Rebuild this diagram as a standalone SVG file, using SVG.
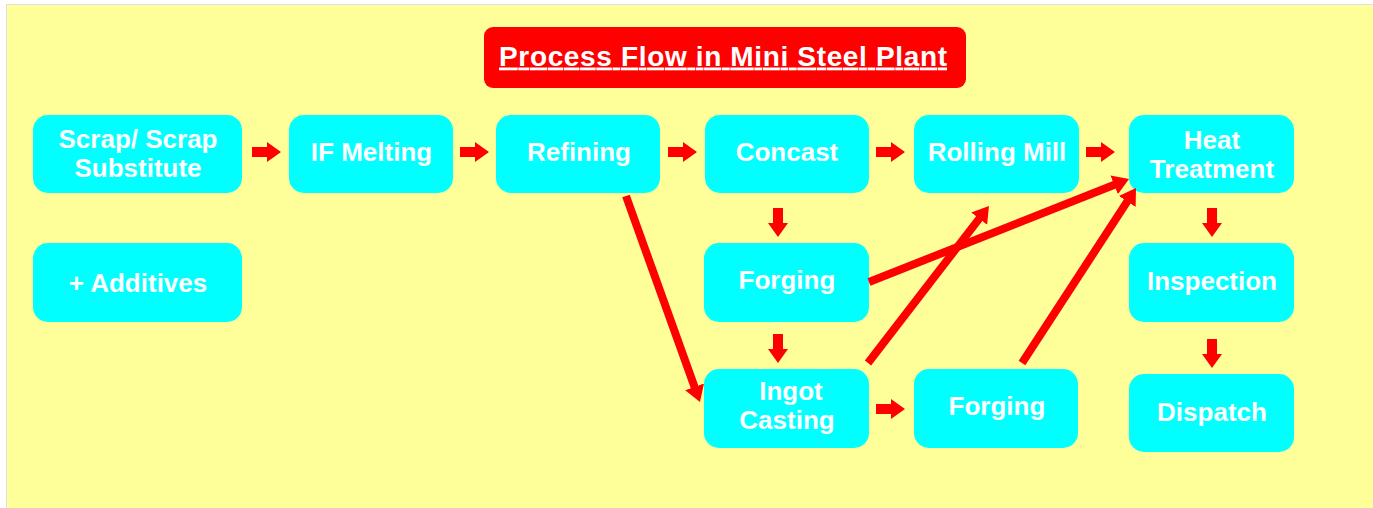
<svg xmlns="http://www.w3.org/2000/svg" width="1373" height="508" viewBox="0 0 1373 508">
  <style>
    .node rect { fill: #00FFFF; }
    .node text, .title text { fill: #FFFFFF; font-family: "Liberation Sans", Arial, sans-serif; font-weight: bold; text-anchor: middle; }
    .node text { font-size: 26px; }
    .block { fill: #FF0000; }
    .link { stroke: #FF0000; stroke-width: 8; fill: none; marker-end: url(#head); }
  </style>
  <defs>
    <!-- short block arrow, pointing right, origin at the tail centre -->
    <path id="blk" class="block" d="M0,-5 H15 V-10 L29,0 L15,10 V5 H0 Z"/>
    <marker id="head" markerUnits="userSpaceOnUse" markerWidth="20" markerHeight="24" viewBox="0 -12 20 24" refX="1" refY="0" orient="auto">
      <path d="M0,-10 L16,0 L0,10 Z" fill="#FF0000"/>
    </marker>
  </defs>

  <!-- page background -->
  <rect x="0" y="0" width="1373" height="508" fill="#FFFFFF"/>
  <rect x="6.5" y="4.5" width="1380" height="520" fill="#FFFF99" stroke="#DEE0E8" stroke-width="1"/>

  <!-- heading -->
  <g id="title" class="title">
    <rect x="484" y="27" width="482" height="61" rx="9" fill="#FF0000"/>
    <text x="723" y="65.5" font-size="28" textLength="448" lengthAdjust="spacing" text-decoration="underline">Process Flow in Mini Steel Plant</text>
  </g>

  <!-- process steps -->
  <g id="scrap" class="node">
    <rect x="33" y="115" width="209" height="78" rx="15"/>
    <text x="138" y="148">Scrap/ Scrap</text>
    <text x="138" y="177">Substitute</text>
  </g>
  <g id="additives" class="node">
    <rect x="33" y="243" width="209" height="79" rx="15"/>
    <text x="138" y="292">+ Additives</text>
  </g>
  <g id="if-melting" class="node">
    <rect x="289" y="115" width="164" height="78" rx="15"/>
    <text x="371.5" y="161">IF Melting</text>
  </g>
  <g id="refining" class="node">
    <rect x="496" y="115" width="164" height="78" rx="15"/>
    <text x="579" y="161">Refining</text>
  </g>
  <g id="concast" class="node">
    <rect x="705" y="115" width="164" height="78" rx="15"/>
    <text x="787" y="161">Concast</text>
  </g>
  <g id="rolling-mill" class="node">
    <rect x="914" y="115" width="165" height="78" rx="15"/>
    <text x="997" y="161">Rolling Mill</text>
  </g>
  <g id="heat-treatment" class="node">
    <rect x="1129" y="115" width="165" height="78" rx="15"/>
    <text x="1212" y="149">Heat</text>
    <text x="1212" y="178">Treatment</text>
  </g>
  <g id="forging-1" class="node">
    <rect x="704" y="243" width="165" height="79" rx="15"/>
    <text x="787" y="289">Forging</text>
  </g>
  <g id="inspection" class="node">
    <rect x="1129" y="243" width="165" height="79" rx="15"/>
    <text x="1212" y="290">Inspection</text>
  </g>
  <g id="ingot-casting" class="node">
    <rect x="704" y="369" width="165" height="79" rx="15"/>
    <text x="791" y="400">Ingot</text>
    <text x="787" y="429">Casting</text>
  </g>
  <g id="forging-2" class="node">
    <rect x="914" y="369" width="164" height="79" rx="15"/>
    <text x="997" y="415">Forging</text>
  </g>
  <g id="dispatch" class="node">
    <rect x="1129" y="374" width="165" height="78" rx="15"/>
    <text x="1212" y="421">Dispatch</text>
  </g>

  <!-- connectors -->
  <g id="connectors">
    <use href="#blk" transform="translate(252,152)"/>
    <use href="#blk" transform="translate(460,152)"/>
    <use href="#blk" transform="translate(668,152)"/>
    <use href="#blk" transform="translate(876,152)"/>
    <use href="#blk" transform="translate(1086,152)"/>
    <use href="#blk" transform="translate(876,409)"/>
    <use href="#blk" transform="translate(778,208) rotate(90)"/>
    <use href="#blk" transform="translate(778,334) rotate(90)"/>
    <use href="#blk" transform="translate(1212,208) rotate(90)"/>
    <use href="#blk" transform="translate(1212,339) rotate(90)"/>

    <line class="link" x1="626" y1="196" x2="694.9" y2="387.9"/>
    <line class="link" x1="869" y1="282" x2="1115.1" y2="184.5"/>
    <line class="link" x1="868" y1="363" x2="979.8" y2="217.9"/>
    <line class="link" x1="1022" y1="363" x2="1127.8" y2="200.6"/>
  </g>
</svg>
